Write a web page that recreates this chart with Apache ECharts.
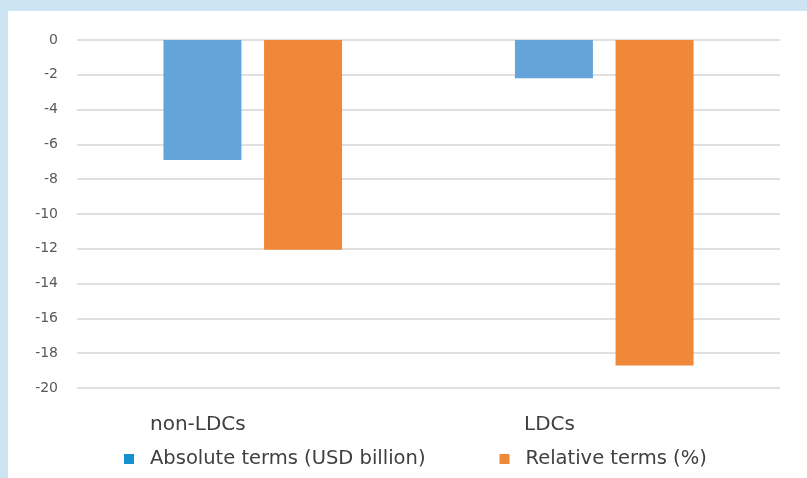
<!DOCTYPE html>
<html>
<head>
<meta charset="utf-8">
<script src="https://cdn.jsdelivr.net/npm/echarts@6/dist/echarts.min.js"></script>
<style>
  html, body { margin: 0; padding: 0; width: 807px; height: 478px; overflow: hidden; background: #cde5f3; }
  #main { position: absolute; left: 8px; top: 11px; width: 799px; height: 467px; background: #ffffff; }
</style>
</head>
<body>
<div id="main"></div>
<script>
// categories and values
var categories = ['non-LDCs', 'LDCs'];
var absoluteTerms = [-6.9, -2.2];   // USD billion
var relativeTerms = [-12.05, -18.7]; // %
var seriesNames = ['Absolute terms (USD billion)', 'Relative terms (%)'];
var yTicks = { min: -20, max: 0, step: 2 };

var font = 'DejaVu Sans';
// category names line up with the legend text columns
var catLabelLeft = [142, 516];

var chart = echarts.init(document.getElementById('main'), null, { renderer: 'canvas' });

chart.setOption({
  backgroundColor: '#ffffff',
  animation: false,
  grid: { left: 69, right: 27, top: 29, bottom: 90, containLabel: false },
  legend: {
    left: 111,
    top: 433,
    icon: 'rect',
    itemWidth: 10,
    itemHeight: 10,
    itemGap: 74,
    textStyle: { fontFamily: font, fontSize: 19.5, color: '#404040', padding: [0, 0, 0, 11] },
    data: [
      { name: seriesNames[0], itemStyle: { color: '#1591cf' } },
      { name: seriesNames[1], itemStyle: { color: '#ef8838' } }
    ]
  },
  xAxis: {
    type: 'category',
    data: categories,
    position: 'top',
    axisLine: { show: false },
    axisTick: { show: false },
    axisLabel: { show: false }
  },
  yAxis: {
    type: 'value',
    min: yTicks.min,
    max: yTicks.max,
    interval: yTicks.step,
    axisLine: { show: false },
    axisTick: { show: false },
    axisLabel: { fontFamily: font, fontSize: 14, color: '#595959', margin: 19 },
    splitLine: { lineStyle: { color: '#e0e0e0', width: 2 } }
  },
  series: [
    {
      name: seriesNames[0],
      type: 'bar',
      data: absoluteTerms,
      barWidth: 78,
      barGap: '29%',
      itemStyle: { color: '#64a4d9' }
    },
    {
      name: seriesNames[1],
      type: 'bar',
      data: relativeTerms,
      barWidth: 78,
      itemStyle: { color: '#ef8839' }
    }
  ],
  graphic: categories.map(function (c, i) {
    return {
      type: 'text',
      left: catLabelLeft[i],
      top: 404,
      style: { text: c, fontFamily: font, fontSize: 20, fill: '#404040' }
    };
  })
});
</script>
</body>
</html>
